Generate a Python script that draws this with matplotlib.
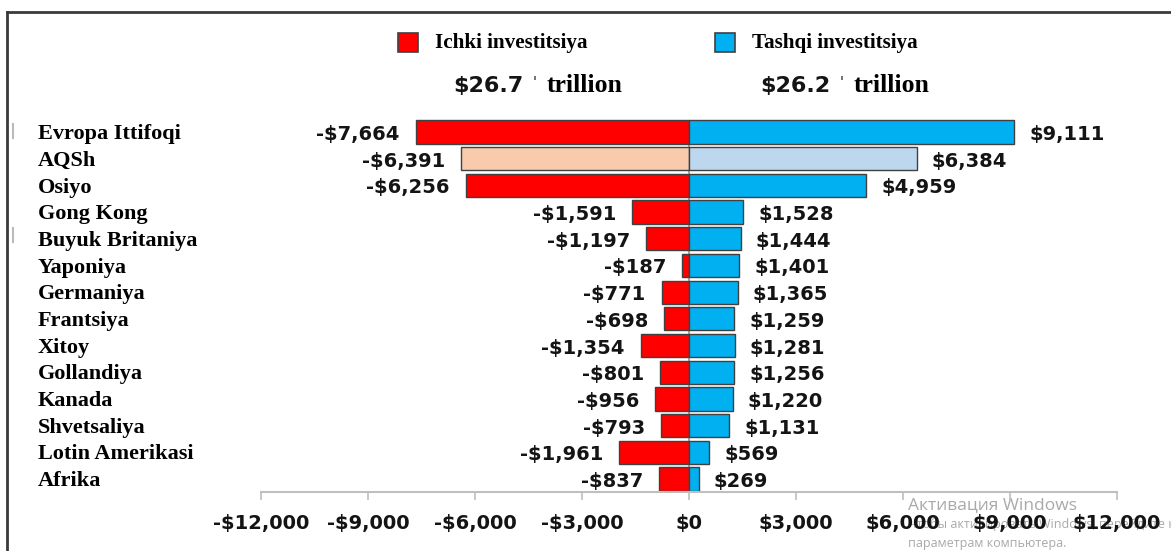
import matplotlib
matplotlib.use("Agg")
import matplotlib.pyplot as plt
from matplotlib.lines import Line2D
from matplotlib.patches import Rectangle
from matplotlib.transforms import blended_transform_factory

# Data (USD billions)
countries = ["Evropa Ittifoqi", "AQSh", "Osiyo", "Gong Kong", "Buyuk Britaniya",
             "Yaponiya", "Germaniya", "Frantsiya", "Xitoy", "Gollandiya",
             "Kanada", "Shvetsaliya", "Lotin Amerikasi", "Afrika"]
inward = [-7664, -6391, -6256, -1591, -1197, -187, -771, -698, -1354, -801,
          -956, -793, -1961, -837]
outward = [9111, 6384, 4959, 1528, 1444, 1401, 1365, 1259, 1281, 1256,
           1220, 1131, 569, 269]
ticks = [-12000, -9000, -6000, -3000, 0, 3000, 6000, 9000, 12000]
inward_total = "$26.7"
outward_total = "$26.2"

RED = "#FF0000"
BLUE = "#00B0F0"
RED_US = "#F8CBAD"
BLUE_US = "#BDD7EE"
EDGE = "#404040"
TXT = "#141414"

W, H = 1171, 551
fig = plt.figure(figsize=(W / 100, H / 100), dpi=100)
fig.patch.set_facecolor("white")

def fx(px):
    return px / W

def fy(py):
    return 1 - py / H

ax = fig.add_axes([fx(261), fy(492), fx(1117) - fx(261), fy(110) - fy(492)])
ax.set_xlim(-12000, 12000)
ax.set_ylim(13.487, -0.824)

ypos = list(range(len(countries)))
left_colors = [RED_US if c == "AQSh" else RED for c in countries]
right_colors = [BLUE_US if c == "AQSh" else BLUE for c in countries]
BAR_H = 0.87

ax.vlines(0, -BAR_H / 2, 13.487, color="#A6A6A6", lw=1.5, zorder=1)
ax.barh(ypos, inward, height=BAR_H, color=left_colors, edgecolor=EDGE, linewidth=1.0, zorder=2)
ax.barh(ypos, outward, height=BAR_H, color=right_colors, edgecolor=EDGE, linewidth=1.0, zorder=2)

val_font = dict(family="DejaVu Sans", weight="bold", size=14, color=TXT)
for y, v in zip(ypos, inward):
    ax.annotate(f"-${abs(v):,}", (v, y), xytext=(-11.5, -1.8), textcoords="offset points",
                ha="right", va="center", **val_font)
for y, v in zip(ypos, outward):
    ax.annotate(f"${v:,}", (v, y), xytext=(11, -1.8), textcoords="offset points",
                ha="left", va="center", **val_font)

# Category names at the far left
name_tr = blended_transform_factory(fig.transFigure, ax.transData)
for y, name in zip(ypos, countries):
    ax.text(fx(38), y + 0.08, name, transform=name_tr, ha="left", va="center",
            family="Liberation Serif", weight="bold", size=16, color="black")

for s in ["top", "left", "right"]:
    ax.spines[s].set_visible(False)
ax.spines["bottom"].set_color("#BFBFBF")
ax.spines["bottom"].set_linewidth(1.5)
ax.set_yticks([])
ax.set_xticks(ticks)
ax.set_xticklabels([("-$" if t < 0 else "$") + f"{abs(t):,}" for t in ticks],
                   family="DejaVu Sans", weight="bold", size=14, color=TXT)
ax.tick_params(axis="x", length=6, width=1.2, color="#BFBFBF", pad=10)
ax.set_facecolor("none")

# Legend
for x0, col, label in [(398, RED, "Ichki investitsiya"), (715, BLUE, "Tashqi investitsiya")]:
    fig.patches.append(Rectangle((fx(x0), fy(52)), fx(20), fy(33) - fy(52),
                                 transform=fig.transFigure, facecolor=col,
                                 edgecolor=EDGE, lw=1.2))
    fig.text(fx(x0 + 37), fy(43), label, family="Liberation Serif", weight="bold",
             size=15.2, va="center", ha="left")

# Totals
for x0, tot in [(453, inward_total), (760, outward_total)]:
    fig.text(fx(x0), fy(86), tot, family="DejaVu Sans", weight="bold", size=16,
             va="center", ha="left", color=TXT)
    fig.patches.append(Rectangle((fx(x0 + 81), fy(80)), fx(2), fy(76) - fy(80),
                                 transform=fig.transFigure, facecolor="#777777",
                                 edgecolor="none"))
    fig.text(fx(x0 + 94), fy(85), "trillion", family="Liberation Serif", weight="bold",
             size=18.5, va="center", ha="left")

# Frame on the top and left
fig.add_artist(Line2D([fx(7), 1], [fy(12), fy(12)], transform=fig.transFigure, color="#3a3a3a", lw=2))
fig.add_artist(Line2D([fx(7), fx(7)], [fy(12), 0], transform=fig.transFigure, color="#3a3a3a", lw=2))
fig.add_artist(Line2D([fx(13), fx(13)], [fy(124), fy(138)], transform=fig.transFigure, color="#BBBBBB", lw=1.5))
fig.add_artist(Line2D([fx(13), fx(13)], [fy(228), fy(242)], transform=fig.transFigure, color="#BBBBBB", lw=1.5))

# System watermark
wm = dict(family="Open Sans", color="#9a9a9a", alpha=0.85, ha="left", va="center", zorder=-1)
fig.text(fx(908), fy(505), "Активация Windows", size=12.5, **wm)
fig.text(fx(908), fy(524), "Чтобы активировать Windows, перейдите к", size=9, **wm)
fig.text(fx(908), fy(544), "параметрам компьютера.", size=9, **wm)

fig.savefig("out.png", dpi=100, facecolor="white")
